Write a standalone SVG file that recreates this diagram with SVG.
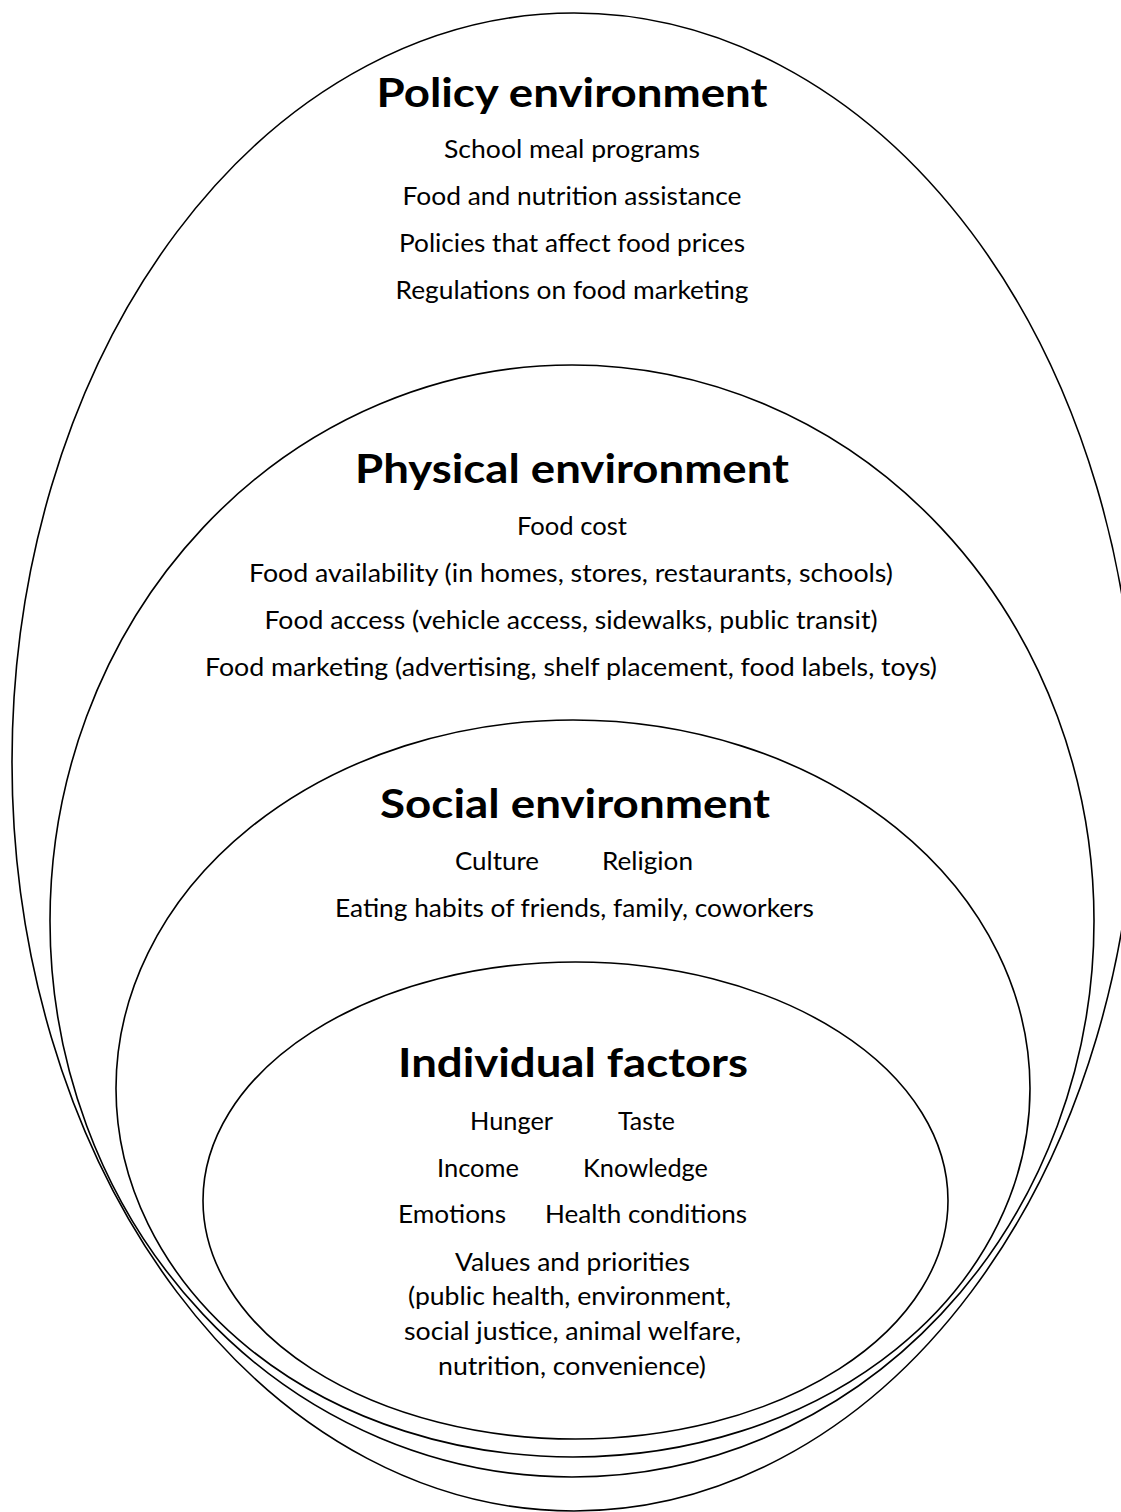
<svg xmlns="http://www.w3.org/2000/svg" width="1121" height="1512" viewBox="0 0 1121 1512">
<style>
.ring{fill:none;stroke:#000;stroke-width:1.6}
.t{font-family:Lato,"Liberation Sans",sans-serif;font-size:40px;font-weight:bold;fill:#000;text-anchor:middle}
.b{font-family:Lato,"Liberation Sans",sans-serif;font-size:25px;fill:#000;text-anchor:middle}
</style>
<rect width="1121" height="1512" fill="#fff"/>
<g id="policy">
<ellipse class="ring" cx="574" cy="762" rx="562" ry="749"/>
<text class="t" x="572" y="107" textLength="391" lengthAdjust="spacingAndGlyphs">Policy environment</text>
<text class="b" x="572" y="158" textLength="256" lengthAdjust="spacingAndGlyphs">School meal programs</text>
<text class="b" x="572" y="205" textLength="339" lengthAdjust="spacingAndGlyphs">Food and nutrition assistance</text>
<text class="b" x="572" y="252" textLength="346" lengthAdjust="spacingAndGlyphs">Policies that affect food prices</text>
<text class="b" x="572" y="299" textLength="353" lengthAdjust="spacingAndGlyphs">Regulations on food marketing</text>
</g>
<g id="physical">
<ellipse class="ring" cx="572" cy="921" rx="522" ry="556"/>
<text class="t" x="572" y="483" textLength="434" lengthAdjust="spacingAndGlyphs">Physical environment</text>
<text class="b" x="572" y="535" textLength="110" lengthAdjust="spacingAndGlyphs">Food cost</text>
<text class="b" x="571" y="582" textLength="644" lengthAdjust="spacingAndGlyphs">Food availability (in homes, stores, restaurants, schools)</text>
<text class="b" x="571" y="629" textLength="613" lengthAdjust="spacingAndGlyphs">Food access (vehicle access, sidewalks, public transit)</text>
<text class="b" x="571" y="676" textLength="732" lengthAdjust="spacingAndGlyphs">Food marketing (advertising, shelf placement, food labels, toys)</text>
</g>
<g id="social">
<ellipse class="ring" cx="573" cy="1088.5" rx="457" ry="368.5"/>
<text class="t" x="575" y="818" textLength="390" lengthAdjust="spacingAndGlyphs">Social environment</text>
<text class="b" x="497" y="870" textLength="84" lengthAdjust="spacingAndGlyphs">Culture</text>
<text class="b" x="647.5" y="870" textLength="91" lengthAdjust="spacingAndGlyphs">Religion</text>
<text class="b" x="574.5" y="917" textLength="479" lengthAdjust="spacingAndGlyphs">Eating habits of friends, family, coworkers</text>
</g>
<g id="individual">
<ellipse class="ring" cx="575.5" cy="1200.5" rx="372.5" ry="238.5"/>
<text class="t" x="573" y="1077" textLength="350" lengthAdjust="spacingAndGlyphs">Individual factors</text>
<text class="b" x="511.5" y="1130" textLength="83" lengthAdjust="spacingAndGlyphs">Hunger</text>
<text class="b" x="646.5" y="1130" textLength="57" lengthAdjust="spacingAndGlyphs">Taste</text>
<text class="b" x="478" y="1177" textLength="82" lengthAdjust="spacingAndGlyphs">Income</text>
<text class="b" x="645.5" y="1177" textLength="125" lengthAdjust="spacingAndGlyphs">Knowledge</text>
<text class="b" x="452" y="1223" textLength="108" lengthAdjust="spacingAndGlyphs">Emotions</text>
<text class="b" x="646" y="1223" textLength="202" lengthAdjust="spacingAndGlyphs">Health conditions</text>
<text class="b" x="572.5" y="1271" textLength="235" lengthAdjust="spacingAndGlyphs">Values and priorities</text>
<text class="b" x="569.5" y="1305" textLength="323" lengthAdjust="spacingAndGlyphs">(public health, environment,</text>
<text class="b" x="572.5" y="1340" textLength="337" lengthAdjust="spacingAndGlyphs">social justice, animal welfare,</text>
<text class="b" x="572" y="1375" textLength="268" lengthAdjust="spacingAndGlyphs">nutrition, convenience)</text>
</g>
<g id="connectors"/>
</svg>
